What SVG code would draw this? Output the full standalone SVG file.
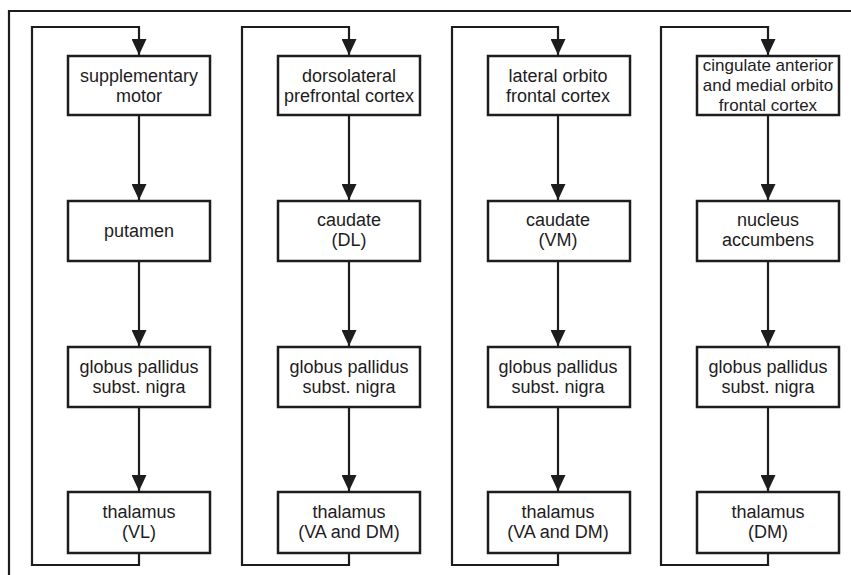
<svg xmlns="http://www.w3.org/2000/svg" width="851" height="575" viewBox="0 0 851 575">
<defs>
<style>
.box{fill:#fff;stroke:#1e1c1d;stroke-width:2.5}
.t{font-family:"Liberation Sans",Arial,Helvetica,sans-serif;font-size:18px;fill:#1e1c1d;text-anchor:middle}
.t4{font-size:17px}
.ln{fill:none;stroke:#1e1c1d;stroke-width:2.2}
.ar{fill:none;stroke:#1e1c1d;stroke-width:2.2;marker-end:url(#ah)}
</style>
<marker id="ah" viewBox="0 0 16 15" refX="16" refY="7.5" markerWidth="16" markerHeight="15" markerUnits="userSpaceOnUse" orient="auto">
<path d="M0,0 L16,7.5 L0,15 z" fill="#1e1c1d"/>
</marker>
</defs>
<rect width="851" height="575" fill="#fff"/>
<path class="ln" d="M9,575 V11 H851"/>
<g id="connectors">
<path class="ar" d="M139,553 V565 H32 V27 H139 V55"/>
<path class="ar" d="M139,115 V200"/>
<path class="ar" d="M139,261 V346"/>
<path class="ar" d="M139,407 V491"/>
<path class="ar" d="M349,553 V565 H242 V27 H349 V55"/>
<path class="ar" d="M349,115 V200"/>
<path class="ar" d="M349,261 V346"/>
<path class="ar" d="M349,407 V491"/>
<path class="ar" d="M558,553 V565 H452 V27 H558 V55"/>
<path class="ar" d="M558,115 V200"/>
<path class="ar" d="M558,261 V346"/>
<path class="ar" d="M558,407 V491"/>
<path class="ar" d="M768,553 V565 H661 V27 H768 V55"/>
<path class="ar" d="M768,115 V200"/>
<path class="ar" d="M768,261 V346"/>
<path class="ar" d="M768,407 V491"/>
</g>
<g id="n1a"><rect class="box" x="68" y="56" width="142" height="59"/><text class="t" x="139" y="82">supplementary</text><text class="t" x="139" y="102">motor</text></g>
<g id="n1b"><rect class="box" x="68" y="201" width="142" height="60"/><text class="t" x="139" y="237">putamen</text></g>
<g id="n1c"><rect class="box" x="68" y="347" width="142" height="60"/><text class="t" x="139" y="373">globus pallidus</text><text class="t" x="139" y="393">subst. nigra</text></g>
<g id="n1d"><rect class="box" x="68" y="492" width="142" height="61"/><text class="t" x="139" y="518">thalamus</text><text class="t" x="139" y="538">(VL)</text></g>

<g id="n2a"><rect class="box" x="278" y="56" width="142" height="59"/><text class="t" x="349" y="82">dorsolateral</text><text class="t" x="349" y="102">prefrontal cortex</text></g>
<g id="n2b"><rect class="box" x="278" y="201" width="142" height="60"/><text class="t" x="349" y="226">caudate</text><text class="t" x="349" y="246">(DL)</text></g>
<g id="n2c"><rect class="box" x="278" y="347" width="142" height="60"/><text class="t" x="349" y="373">globus pallidus</text><text class="t" x="349" y="393">subst. nigra</text></g>
<g id="n2d"><rect class="box" x="278" y="492" width="142" height="61"/><text class="t" x="349" y="518">thalamus</text><text class="t" x="349" y="538">(VA and DM)</text></g>

<g id="n3a"><rect class="box" x="488" y="56" width="142" height="59"/><text class="t" x="558" y="82">lateral orbito</text><text class="t" x="558" y="102">frontal cortex</text></g>
<g id="n3b"><rect class="box" x="488" y="201" width="142" height="60"/><text class="t" x="558" y="226">caudate</text><text class="t" x="558" y="246">(VM)</text></g>
<g id="n3c"><rect class="box" x="488" y="347" width="142" height="60"/><text class="t" x="558" y="373">globus pallidus</text><text class="t" x="558" y="393">subst. nigra</text></g>
<g id="n3d"><rect class="box" x="488" y="492" width="142" height="61"/><text class="t" x="558" y="518">thalamus</text><text class="t" x="558" y="538">(VA and DM)</text></g>

<g id="n4a"><rect class="box" x="697" y="56" width="142" height="59"/><text class="t t4" x="768" y="71">cingulate anterior</text><text class="t t4" x="768" y="91">and medial orbito</text><text class="t t4" x="768" y="111">frontal cortex</text></g>
<g id="n4b"><rect class="box" x="697" y="201" width="142" height="60"/><text class="t" x="768" y="226">nucleus</text><text class="t" x="768" y="246">accumbens</text></g>
<g id="n4c"><rect class="box" x="697" y="347" width="142" height="60"/><text class="t" x="768" y="373">globus pallidus</text><text class="t" x="768" y="393">subst. nigra</text></g>
<g id="n4d"><rect class="box" x="697" y="492" width="142" height="61"/><text class="t" x="768" y="518">thalamus</text><text class="t" x="768" y="538">(DM)</text></g>
</svg>
